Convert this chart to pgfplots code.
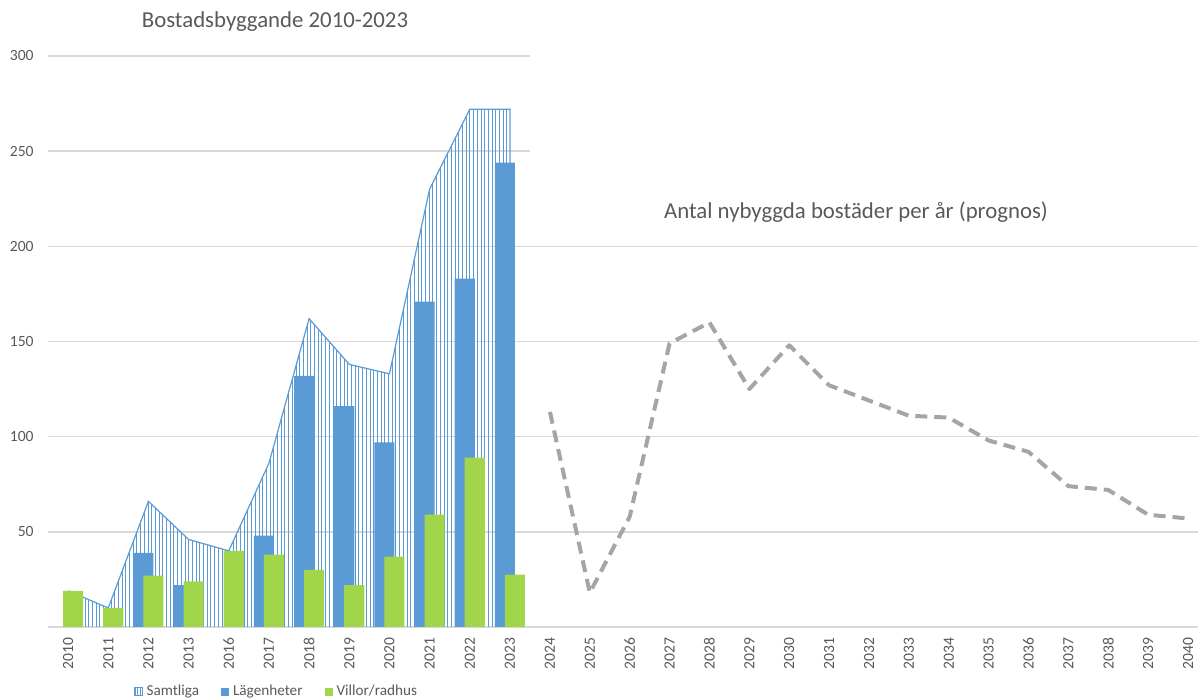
\documentclass[border=0pt]{standalone}
\usepackage{fontspec}
\setmainfont{Carlito}
\usepackage{pgfplots}
\pgfplotsset{compat=1.18}
\usetikzlibrary{patterns.meta}

\definecolor{barblue}{HTML}{5B9BD5}
\definecolor{bargreen}{HTML}{A1D64A}
\definecolor{txtgray}{HTML}{595959}
\definecolor{gridgray}{HTML}{D9D9D9}
\definecolor{linegray}{HTML}{A5A5A5}

\pgfplotsset{
  excel/.style={
    scale only axis,
    anchor=south west,
    axis line style={draw=none},
    tick style={draw=none},
    ymajorgrids,
    grid style={gridgray, line width=0.7pt},
    ymin=0,
    /pgf/number format/assume math mode=true,
    tick label style={font=\fontsize{7.8}{9}\selectfont, text=txtgray},
    yticklabel style={inner sep=0pt, xshift=-7pt},
    xticklabel style={inner sep=0pt, yshift=-5pt, rotate=90, anchor=east},
  }
}

\begin{document}
\begin{tikzpicture}
% left part: 2010-2023
\begin{axis}[excel,
  at={(24pt,36pt)},
  width=241pt, height=285.5pt,
  xmin=-0.5, xmax=11.5, ymax=300,
  ytick={0,50,...,300},
  yticklabels={,50,100,150,200,250,300},
  xtick={0,...,11},
  xticklabels={2010,2011,2012,2013,2016,2017,2018,2019,2020,2021,2022,2023},
  legend columns=3,
  legend cell align=left,
  legend style={at={(0.476,-0.113)}, anchor=center, draw=none, fill=none,
    font=\fontsize{7.6}{9}\selectfont, text=txtgray,
    /tikz/every even column/.append style={column sep=9pt}},
]
\addplot[draw=none, pattern={Lines[angle=90,distance=1.85pt,line width=0.5pt]},
  pattern color=barblue,
  legend image code/.code={\draw[barblue, line width=0.4pt, pattern={Lines[angle=90,distance=1.3pt,line width=0.35pt]}, pattern color=barblue] (0pt,-2pt) rectangle (4pt,2pt);}]
  coordinates {(0,19)(1,10)(2,66)(3,46)(4,40)(5,86)(6,162)(7,138)(8,133)(9,230)(10,272)(11,272)} \closedcycle;
\addlegendentry{Samtliga}
\addplot[barblue, line width=0.6pt, forget plot]
  coordinates {(0,19)(1,10)(2,66)(3,46)(4,40)(5,86)(6,162)(7,138)(8,133)(9,230)(10,272)(11,272)(11,0)};
\addplot[ybar, bar width=0.5, bar shift=-0.125, fill=barblue, draw=none,
  legend image code/.code={\fill[barblue] (0pt,-2pt) rectangle (4pt,2pt);}]
  coordinates {(2,39)(3,22)(5,48)(6,132)(7,116)(8,97)(9,171)(10,183)(11,244)};
\addlegendentry{Lägenheter}
\addplot[ybar, bar width=0.5, bar shift=0.125, fill=bargreen, draw=none,
  legend image code/.code={\fill[bargreen] (0pt,-2pt) rectangle (4pt,2pt);}]
  coordinates {(0,19)(1,10)(2,27)(3,24)(4,40)(5,38)(6,30)(7,22)(8,37)(9,59)(10,89)(11,27.5)};
\addlegendentry{Villor/radhus}
\end{axis}

% right part: forecast 2024-2040
\begin{axis}[excel,
  at={(265pt,36pt)},
  width=334pt, height=190.33pt,
  xmin=-0.5, xmax=16.25, ymax=200,
  ytick={0,50,...,200},
  yticklabels={},
  xtick={0,...,16},
  xticklabels={2024,2025,2026,2027,2028,2029,2030,2031,2032,2033,2034,2035,2036,2037,2038,2039,2040},
]
\addplot[linegray, line width=2pt, dash pattern=on 6pt off 3.5pt, line join=round]
  coordinates {(0,113)(1,18)(2,58)(3,149)(4,160)(5,125)(6,148)(7,127)(8,119)(9,111)(10,110)(11,98)(12,92)(13,74)(14,72)(15,59)(16,57)};
\end{axis}

\node[font=\fontsize{11.4}{13}\selectfont, text=txtgray] at (137.5pt,338.5pt) {Bostadsbyggande 2010-2023};
\node[font=\fontsize{11.4}{13}\selectfont, text=txtgray] at (428pt,243.5pt) {Antal nybyggda bostäder per år (prognos)};

\pgfresetboundingbox
\path[use as bounding box] (0,0) rectangle (599pt,349.5pt);
\end{tikzpicture}
\end{document}
